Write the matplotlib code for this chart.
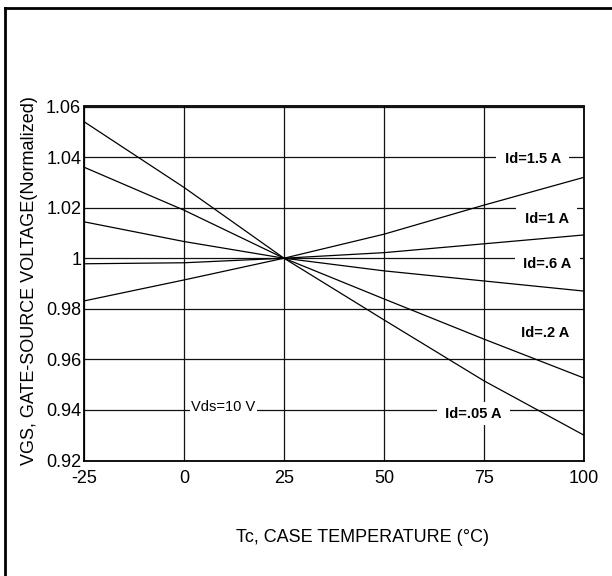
import matplotlib
matplotlib.use("Agg")
import matplotlib.pyplot as plt
from matplotlib.lines import Line2D

plt.rcParams['font.family'] = ['Liberation Sans', 'DejaVu Sans']
plt.rcParams['axes.unicode_minus'] = False

# case temperature (°C) and normalized VGS for each drain current
temps = [-25, 0, 25, 50, 75, 100]
vgs_id_005 = [1.054, 1.028, 1.000, 0.9756, 0.9515, 0.930]
vgs_id_02 = [1.036, 1.019, 1.000, 0.9839, 0.968, 0.9526]
vgs_id_06 = [1.0144, 1.0066, 1.000, 0.995, 0.991, 0.987]
vgs_id_1 = [0.9978, 0.9982, 1.000, 1.0022, 1.0057, 1.0092]
vgs_id_15 = [0.9831, 0.9914, 1.000, 1.0095, 1.021, 1.032]

x_ticks = [-25, 0, 25, 50, 75, 100]
y_ticks = [0.92, 0.94, 0.96, 0.98, 1.00, 1.02, 1.04, 1.06]
y_tick_labels = ['0.92', '0.94', '0.96', '0.98', '1', '1.02', '1.04', '1.06']

# label text, x, y (data coords)
curve_labels = [
    ('Id=1.5 A', 87.2, 1.0392),
    ('Id=1 A', 90.6, 1.0157),
    ('Id=.6 A', 90.8, 0.9977),
    ('Id=.2 A', 90.2, 0.9706),
    ('Id=.05 A', 72.3, 0.9385),
]

fig = plt.figure(figsize=(6.12, 5.76), dpi=100)
ax = fig.add_axes([84 / 612, 115.5 / 576, 500 / 612, 354 / 576])

for ys in [vgs_id_005, vgs_id_02, vgs_id_06, vgs_id_1, vgs_id_15]:
    ax.plot(temps, ys, color='black', lw=0.9, zorder=3)

ax.set_xlim(-25, 100)
ax.set_ylim(0.92, 1.06)
ax.set_xticks(x_ticks)
ax.set_yticks(y_ticks)
ax.set_yticklabels(y_tick_labels)
ax.grid(True, color='#111111', lw=0.9, zorder=1)
ax.set_axisbelow(True)
ax.tick_params(length=0, labelsize=13)
ax.tick_params(axis='x', pad=7)
ax.tick_params(axis='y', pad=2)
for s in ax.spines.values():
    s.set_linewidth(1.3)

for text, x, y in curve_labels:
    ax.text(x, y, ' ' + text + ' ', fontsize=10.5, fontweight='bold', ha='center', va='center',
            zorder=4, bbox=dict(boxstyle='square,pad=0.3', facecolor='white', edgecolor='none'))

ax.text(9.9, 0.9413, 'Vds=10 V', fontsize=10.5, ha='center', va='center', zorder=4,
        bbox=dict(boxstyle='square,pad=0.1', facecolor='white', edgecolor='none'))

ax.set_xlabel('Tc, CASE TEMPERATURE (°C)', fontsize=13)
ax.xaxis.label.set_va('center')
ax.xaxis.set_label_coords((363 - 84) / 500, -(537.7 - 460.5) / 354)
ax.set_ylabel('VGS, GATE-SOURCE VOLTAGE(Normalized)', fontsize=13)
ax.yaxis.label.set_va('center')
ax.yaxis.set_label_coords((30 - 84) / 500, (460.5 - 281) / 354)

# outer frame (runs off the right and bottom edges)
fig.add_artist(Line2D([5 / 612, 5 / 612], [0, 1 - 8 / 576], color='black', lw=2))
fig.add_artist(Line2D([5 / 612, 1], [1 - 8 / 576, 1 - 8 / 576], color='black', lw=2))

fig.savefig('out.png', dpi=100)
